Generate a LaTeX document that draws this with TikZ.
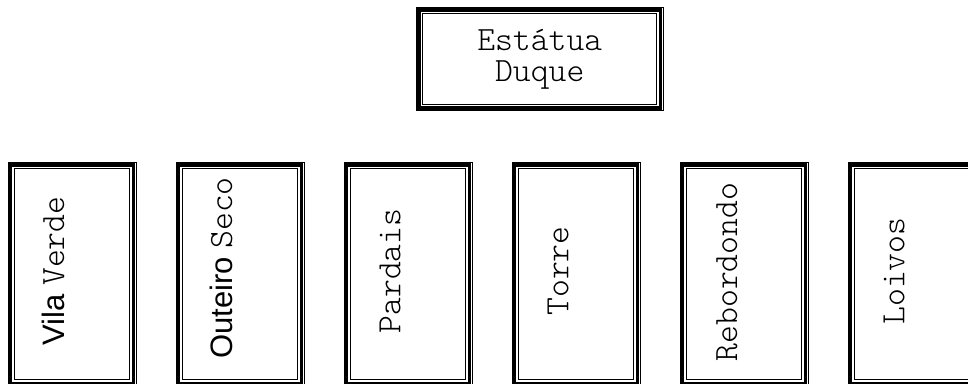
\documentclass[tikz,border=0pt]{standalone}
\usepackage{fontspec}
\setsansfont{Liberation Sans}
\setmonofont{Latin Modern Mono Light}
\begin{document}
\begin{tikzpicture}[x=1pt,y=-1pt]
\useasboundingbox (0,0) rectangle (968,383);
\tikzset{
  tbox/.style={draw=black, line width=1pt, rectangle, inner sep=0pt},
  lowbox/.style={tbox, minimum width=128pt, minimum height=223.5pt},
  mtext/.style={font=\ttfamily\fontsize{34}{31}\selectfont, align=center},
  vtext/.style={font=\ttfamily\fontsize{34}{31}\selectfont, rotate=90, inner sep=0pt}
}
\node[tbox, mtext, minimum width=246.5pt, minimum height=103pt] (top) at (539.75,59) {Estátua\\Duque};
\node[lowbox] (vv) at (72,274.25) {};
\node[lowbox] (os) at (240,274.25) {};
\node[lowbox] (pa) at (408,274.25) {};
\node[lowbox] (to) at (576,274.25) {};
\node[lowbox] (re) at (744,274.25) {};
\node[lowbox] (lo) at (912,274.25) {};
\foreach \n in {top,vv,os,pa,to,re,lo}{
  \draw[line width=3.2pt] ([shift={(3,3)}]\n.north west) rectangle ([shift={(-3,-3)}]\n.south east);
  \draw[line width=1.1pt] ([shift={(6.8,6.8)}]\n.north west) rectangle ([shift={(-6.8,-6.8)}]\n.south east);
}
\node[vtext] (vvt) at (53,271) {{\sffamily\fontsize{31}{31}\selectfont Vila }Verde};
\node[vtext] (ost) at (221,268) {{\sffamily\fontsize{31}{31}\selectfont Outeiro }Seco};
\node[vtext] (pat) at (390,271) {Pardais};
\node[vtext] (tot) at (558,271) {Torre};
\node[vtext] (ret) at (727,272) {Rebordondo};
\node[vtext] (lot) at (894,271) {Loivos};
\end{tikzpicture}
\end{document}
